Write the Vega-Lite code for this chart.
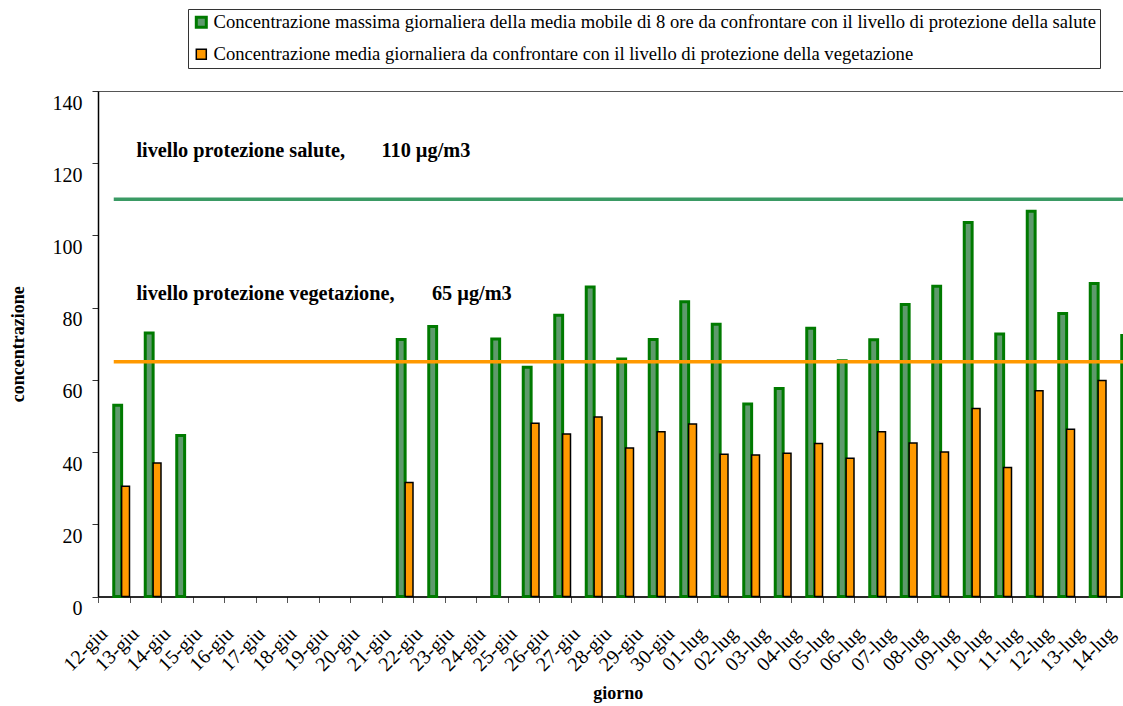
{
  "$schema": "https://vega.github.io/schema/vega-lite/v6.json",
  "width": 1025,
  "height": 505.5,
  "autosize": {"type": "none"},
  "padding": {"left": 98, "top": 91, "right": 0, "bottom": 109.5},
  "background": "white",
  "config": {
    "view": {"stroke": "#555555", "strokeWidth": 1},
    "font": "Liberation Serif",
    "axis": {"labelFont": "Liberation Serif", "titleFont": "Liberation Serif"},
    "legend": {"labelFont": "Liberation Serif", "titleFont": "Liberation Serif"},
    "text": {"font": "Liberation Serif"}
  },
  "datasets": {
    "barre": [
      {"giorno": "12-giu", "serie": "salute", "valore": 53.0},
      {"giorno": "13-giu", "serie": "salute", "valore": 73.0},
      {"giorno": "14-giu", "serie": "salute", "valore": 44.6},
      {"giorno": "21-giu", "serie": "salute", "valore": 71.2},
      {"giorno": "22-giu", "serie": "salute", "valore": 74.8},
      {"giorno": "24-giu", "serie": "salute", "valore": 71.3},
      {"giorno": "25-giu", "serie": "salute", "valore": 63.5},
      {"giorno": "26-giu", "serie": "salute", "valore": 77.9},
      {"giorno": "27-giu", "serie": "salute", "valore": 85.7},
      {"giorno": "28-giu", "serie": "salute", "valore": 65.8},
      {"giorno": "29-giu", "serie": "salute", "valore": 71.2},
      {"giorno": "30-giu", "serie": "salute", "valore": 81.6},
      {"giorno": "01-lug", "serie": "salute", "valore": 75.4},
      {"giorno": "02-lug", "serie": "salute", "valore": 53.3},
      {"giorno": "03-lug", "serie": "salute", "valore": 57.6},
      {"giorno": "04-lug", "serie": "salute", "valore": 74.3},
      {"giorno": "05-lug", "serie": "salute", "valore": 65.3},
      {"giorno": "06-lug", "serie": "salute", "valore": 71.1},
      {"giorno": "07-lug", "serie": "salute", "valore": 80.9},
      {"giorno": "08-lug", "serie": "salute", "valore": 85.9},
      {"giorno": "09-lug", "serie": "salute", "valore": 103.6},
      {"giorno": "10-lug", "serie": "salute", "valore": 72.7},
      {"giorno": "11-lug", "serie": "salute", "valore": 106.7},
      {"giorno": "12-lug", "serie": "salute", "valore": 78.4},
      {"giorno": "13-lug", "serie": "salute", "valore": 86.7},
      {"giorno": "14-lug", "serie": "salute", "valore": 72.3},
      {"giorno": "12-giu", "serie": "vegetazione", "valore": 30.5},
      {"giorno": "13-giu", "serie": "vegetazione", "valore": 37.0},
      {"giorno": "21-giu", "serie": "vegetazione", "valore": 31.6},
      {"giorno": "25-giu", "serie": "vegetazione", "valore": 48.0},
      {"giorno": "26-giu", "serie": "vegetazione", "valore": 45.0},
      {"giorno": "27-giu", "serie": "vegetazione", "valore": 49.7},
      {"giorno": "28-giu", "serie": "vegetazione", "valore": 41.1},
      {"giorno": "29-giu", "serie": "vegetazione", "valore": 45.6},
      {"giorno": "30-giu", "serie": "vegetazione", "valore": 47.8},
      {"giorno": "01-lug", "serie": "vegetazione", "valore": 39.4},
      {"giorno": "02-lug", "serie": "vegetazione", "valore": 39.2},
      {"giorno": "03-lug", "serie": "vegetazione", "valore": 39.7},
      {"giorno": "04-lug", "serie": "vegetazione", "valore": 42.4},
      {"giorno": "05-lug", "serie": "vegetazione", "valore": 38.3},
      {"giorno": "06-lug", "serie": "vegetazione", "valore": 45.6},
      {"giorno": "07-lug", "serie": "vegetazione", "valore": 42.5},
      {"giorno": "08-lug", "serie": "vegetazione", "valore": 40.0},
      {"giorno": "09-lug", "serie": "vegetazione", "valore": 52.1},
      {"giorno": "10-lug", "serie": "vegetazione", "valore": 35.7},
      {"giorno": "11-lug", "serie": "vegetazione", "valore": 57.0},
      {"giorno": "12-lug", "serie": "vegetazione", "valore": 46.3},
      {"giorno": "13-lug", "serie": "vegetazione", "valore": 59.8}
    ],
    "soglie": [
      {"nome": "salute", "livello": 110},
      {"nome": "vegetazione", "livello": 65}
    ],
    "etichette": [
      {"giorno": "13-giu", "y": 121.8, "testo": "livello protezione salute,"},
      {"giorno": "13-giu", "y": 82.1, "testo": "livello protezione vegetazione,"}
    ],
    "valoreSalute": [
      {"giorno": "21-giu", "y": 121.8, "testo": "110 µg/m3"}
    ],
    "valoreVeg": [
      {"giorno": "22-giu", "y": 82.1, "testo": "65 µg/m3"}
    ]
  },
  "layer": [
    {
      "data": {"name": "barre"},
      "mark": {"type": "bar"},
      "encoding": {
        "x": {
          "field": "giorno",
          "type": "nominal",
          "title": "giorno",
          "sort": null,
          "scale": {
            "type": "band",
            "domain": ["12-giu","13-giu","14-giu","15-giu","16-giu","17-giu","18-giu","19-giu","20-giu","21-giu","22-giu","23-giu","24-giu","25-giu","26-giu","27-giu","28-giu","29-giu","30-giu","01-lug","02-lug","03-lug","04-lug","05-lug","06-lug","07-lug","08-lug","09-lug","10-lug","11-lug","12-lug","13-lug","14-lug"],
            "paddingInner": 0,
            "paddingOuter": 0,
            "range": [0, 1039.5]
          },
          "axis": {
            "title": "giorno",
            "titleFontSize": 18,
            "titleFontWeight": "bold",
            "titleFont": "Liberation Serif",
            "titleColor": "#000000",
            "titlePadding": 10,
            "labelAngle": -45,
            "labelAlign": "right",
            "labelBaseline": "middle",
            "labelFont": "Liberation Serif",
            "labelFontSize": 20,
            "labelPadding": 28,
            "labelOffset": -10,
            "labelOverlap": false,
            "labelColor": "#000000",
            "tickBand": "extent",
            "tickSize": 6,
            "tickColor": "#555555",
            "domainColor": "#000000",
            "domainWidth": 1.5
          }
        },
        "xOffset": {
          "field": "serie",
          "type": "nominal",
          "scale": {"domain": ["_a", "_b", "salute", "vegetazione"], "paddingInner": 0, "paddingOuter": 0}
        },
        "y": {
          "field": "valore",
          "type": "quantitative",
          "title": "concentrazione",
          "scale": {"domain": [0, 140], "nice": false},
          "axis": {
            "title": "concentrazione",
            "titleFontSize": 18,
            "titleFontWeight": "bold",
            "titleFont": "Liberation Serif",
            "titleColor": "#000000",
            "titlePadding": 25,
            "values": [0, 20, 40, 60, 80, 100, 120, 140],
            "labelFont": "Liberation Serif",
            "labelFontSize": 20,
            "labelPadding": 10,
            "labelBaseline": "top",
            "labelOffset": 2,
            "labelColor": "#000000",
            "tickSize": 6,
            "tickColor": "#333333",
            "domainColor": "#000000",
            "domainWidth": 1.5,
            "grid": false
          }
        },
        "fill": {
          "field": "serie",
          "type": "nominal",
          "scale": {"domain": ["salute", "vegetazione"], "range": ["#5e9a6c", "#ff9900"]},
          "legend": {
            "orient": "none",
            "legendX": 90,
            "legendY": -82,
            "title": null,
            "direction": "vertical",
            "symbolType": "square",
            "symbolSize": 100,
            "labelFontSize": 18.6,
            "labelFont": "Liberation Serif",
            "labelColor": "#000000",
            "labelLimit": 2000,
            "labelOffset": 3,
            "rowPadding": 11,
            "padding": 4,
            "strokeColor": "#333333",
            "fillColor": "#ffffff",
            "labelExpr": "datum.label == 'salute' ? 'Concentrazione massima giornaliera della media mobile di 8 ore da confrontare con il livello di protezione della salute' : 'Concentrazione media giornaliera da confrontare con il livello di protezione della vegetazione'"
          }
        },
        "stroke": {
          "field": "serie",
          "type": "nominal",
          "scale": {"domain": ["salute", "vegetazione"], "range": ["#007a00", "#000000"]},
          "legend": {
            "orient": "none",
            "legendX": 90,
            "legendY": -82,
            "title": null,
            "direction": "vertical",
            "symbolType": "square",
            "symbolSize": 100,
            "labelFontSize": 18.6,
            "labelFont": "Liberation Serif",
            "labelColor": "#000000",
            "labelLimit": 2000,
            "labelOffset": 3,
            "rowPadding": 11,
            "padding": 4,
            "strokeColor": "#333333",
            "fillColor": "#ffffff",
            "labelExpr": "datum.label == 'salute' ? 'Concentrazione massima giornaliera della media mobile di 8 ore da confrontare con il livello di protezione della salute' : 'Concentrazione media giornaliera da confrontare con il livello di protezione della vegetazione'"
          }
        },
        "strokeWidth": {
          "field": "serie",
          "type": "nominal",
          "scale": {"domain": ["salute", "vegetazione"], "range": [3, 1.5]},
          "legend": {
            "orient": "none",
            "legendX": 90,
            "legendY": -82,
            "title": null,
            "direction": "vertical",
            "symbolType": "square",
            "symbolSize": 100,
            "labelFontSize": 18.6,
            "labelFont": "Liberation Serif",
            "labelColor": "#000000",
            "labelLimit": 2000,
            "labelOffset": 3,
            "rowPadding": 11,
            "padding": 4,
            "strokeColor": "#333333",
            "fillColor": "#ffffff",
            "labelExpr": "datum.label == 'salute' ? 'Concentrazione massima giornaliera della media mobile di 8 ore da confrontare con il livello di protezione della salute' : 'Concentrazione media giornaliera da confrontare con il livello di protezione della vegetazione'"
          }
        }
      }
    },
    {
      "data": {"name": "soglie"},
      "transform": [{"filter": "datum.nome == 'salute'"}],
      "mark": {"type": "rule", "color": "#3a9a64", "strokeWidth": 3.5},
      "encoding": {
        "x": {"datum": "12-giu", "bandPosition": 0.5, "title": "giorno"},
        "x2": {"value": "width"},
        "y": {"field": "livello", "type": "quantitative", "title": "concentrazione"}
      }
    },
    {
      "data": {"name": "soglie"},
      "transform": [{"filter": "datum.nome == 'vegetazione'"}],
      "mark": {"type": "rule", "color": "#ff9900", "strokeWidth": 3.5},
      "encoding": {
        "x": {"datum": "12-giu", "bandPosition": 0.5, "title": "giorno"},
        "x2": {"value": "width"},
        "y": {"field": "livello", "type": "quantitative", "title": "concentrazione"}
      }
    },
    {
      "data": {"name": "etichette"},
      "mark": {"type": "text", "align": "left", "baseline": "alphabetic", "fontSize": 20.3, "fontWeight": "bold", "font": "Liberation Serif", "color": "#000000"},
      "encoding": {
        "x": {"field": "giorno", "type": "nominal", "bandPosition": 0.22, "title": "giorno"},
        "y": {"field": "y", "type": "quantitative", "title": "concentrazione"},
        "text": {"field": "testo"}
      }
    },
    {
      "data": {"name": "valoreSalute"},
      "mark": {"type": "text", "align": "left", "baseline": "alphabetic", "fontSize": 20.3, "fontWeight": "bold", "font": "Liberation Serif", "color": "#000000"},
      "encoding": {
        "x": {"field": "giorno", "type": "nominal", "bandPosition": 0, "title": "giorno"},
        "y": {"field": "y", "type": "quantitative", "title": "concentrazione"},
        "text": {"field": "testo"}
      }
    },
    {
      "data": {"name": "valoreVeg"},
      "mark": {"type": "text", "align": "left", "baseline": "alphabetic", "fontSize": 20.3, "fontWeight": "bold", "font": "Liberation Serif", "color": "#000000"},
      "encoding": {
        "x": {"field": "giorno", "type": "nominal", "bandPosition": 0.6, "title": "giorno"},
        "y": {"field": "y", "type": "quantitative", "title": "concentrazione"},
        "text": {"field": "testo"}
      }
    }
  ]
}
